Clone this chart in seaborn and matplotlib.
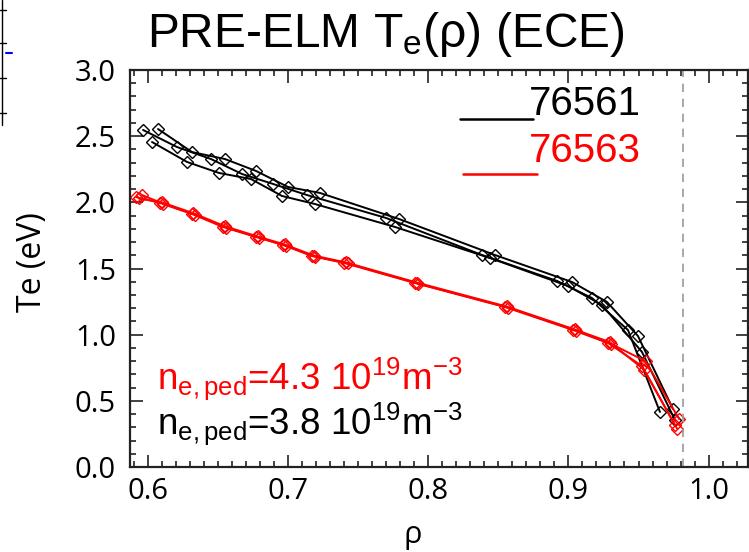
import numpy as np
import pandas as pd
import matplotlib
matplotlib.use("Agg")
import matplotlib.pyplot as plt
from matplotlib.lines import Line2D
from matplotlib.ticker import MultipleLocator
import seaborn as sns

# ---- data ----
rho_b1 = [0.5966, 0.6208, 0.6451, 0.6672, 0.6893, 0.7136, 0.7699, 0.8384, 0.8919, 0.9168, 0.9425, 0.9653]
te_b1  = [2.547, 2.418, 2.327, 2.214, 2.139, 2.055, 1.882, 1.602, 1.406, 1.277, 1.035, 0.416]
rho_b2 = [0.6073, 0.6315, 0.6551, 0.6772, 0.7000, 0.7228, 0.7792, 0.8476, 0.9026, 0.9275, 0.9496, 0.9746]
te_b2  = [2.554, 2.380, 2.327, 2.237, 2.116, 2.071, 1.874, 1.602, 1.398, 1.247, 0.990, 0.438]
rho_b3 = [0.6030, 0.6280, 0.6508, 0.6736, 0.6957, 0.7193, 0.7763, 0.8441, 0.8997, 0.9240, 0.9525, 0.9760]
te_b3  = [2.456, 2.305, 2.222, 2.176, 2.048, 1.987, 1.814, 1.579, 1.368, 1.224, 0.869, 0.355]

rho_r1 = [0.5916, 0.6087, 0.6315, 0.6536, 0.6772, 0.6964, 0.7171, 0.7400, 0.7906, 0.8548, 0.9033, 0.9283, 0.9525, 0.9760]
te_r1  = [2.040, 1.995, 1.912, 1.814, 1.738, 1.678, 1.594, 1.542, 1.390, 1.209, 1.035, 0.937, 0.763, 0.317]
rho_r2 = [0.5959, 0.6110, 0.6340, 0.6560, 0.6795, 0.6985, 0.7195, 0.7425, 0.7930, 0.8570, 0.9055, 0.9305, 0.9550, 0.9790]
te_r2  = [2.055, 1.990, 1.905, 1.808, 1.733, 1.672, 1.590, 1.538, 1.385, 1.204, 1.030, 0.930, 0.800, 0.362]
rho_r3 = [0.5935, 0.6100, 0.6325, 0.6548, 0.6783, 0.6975, 0.7183, 0.7412, 0.7918, 0.8559, 0.9044, 0.9294, 0.9540, 0.9775]
te_r3  = [2.030, 2.000, 1.918, 1.820, 1.742, 1.682, 1.598, 1.546, 1.394, 1.213, 1.040, 0.944, 0.735, 0.290]

separatrix = 0.9817
shot_labels = ["76561", "76563"]
xticks = [0.6, 0.7, 0.8, 0.9, 1.0]
yticks = [0.0, 0.5, 1.0, 1.5, 2.0, 2.5, 3.0]

sns.set_style("ticks")
plt.rcParams["mathtext.fontset"] = "custom"
plt.rcParams["mathtext.rm"] = "Liberation Sans"
plt.rcParams["mathtext.it"] = "Liberation Sans:italic"
plt.rcParams["font.family"] = ["Liberation Sans", "DejaVu Sans"]
plt.rcParams["text.color"] = "black"
plt.rcParams["xtick.color"] = "black"
plt.rcParams["ytick.color"] = "black"
plt.rcParams["xtick.labelcolor"] = "black"
plt.rcParams["ytick.labelcolor"] = "black"

fig = plt.figure(figsize=(7.49, 5.52), dpi=100)
ax = fig.add_axes([130/749, 85/552, 618/749, 397/552])

for rr, tt in [(rho_b1, te_b1), (rho_b2, te_b2), (rho_b3, te_b3)]:
    sns.lineplot(x=rr, y=tt, ax=ax, color="black", lw=1.4, marker="D", ms=6.5,
                 markerfacecolor="none", markeredgecolor="black", mew=1.0,
                 sort=False, estimator=None)
for rr, tt in [(rho_r1, te_r1), (rho_r2, te_r2), (rho_r3, te_r3)]:
    sns.lineplot(x=rr, y=tt, ax=ax, color="#ff0000", lw=1.4, marker="D", ms=6.5,
                 markerfacecolor="none", markeredgecolor="#ff0000", mew=1.0,
                 sort=False, estimator=None)

ax.axvline(separatrix, color="#999999", lw=1.2, ls=(0, (5, 4)))

ax.set_xlim(0.5873, 1.0281)
ax.set_ylim(0.0, 3.0)
ax.set_xticks(xticks)
ax.set_yticks(yticks)
ax.set_xticklabels([f"{v:.1f}" for v in xticks], family="Open Sans", fontsize=21)
ax.set_yticklabels([f"{v:.1f}" for v in yticks], family="Open Sans", fontsize=21)
ax.xaxis.set_minor_locator(MultipleLocator(0.01))
ax.yaxis.set_minor_locator(MultipleLocator(0.1))
ax.tick_params(which="both", direction="in", top=True, right=True, width=1.2, color="#222222")
ax.tick_params(which="major", length=9)
ax.tick_params(which="minor", length=4.5)
ax.tick_params(axis="x", which="major", pad=7)
ax.tick_params(axis="y", which="major", pad=10)
for s in ax.spines.values():
    s.set_linewidth(1.6)
    s.set_color("#222222")
ax.set_xlabel("")
ax.set_ylabel("")

# legend-like shot labels
ax.add_line(Line2D([0.534, 0.652], [0.877, 0.877], transform=ax.transAxes, color="black", lw=1.8))
ax.add_line(Line2D([0.539, 0.659], [0.738, 0.738], transform=ax.transAxes, color="#ff0000", lw=1.8))
ax.text(0.645, 0.887, shot_labels[0], transform=ax.transAxes, fontsize=29, color="black",
        ha="left", va="baseline")
ax.text(0.645, 0.768, shot_labels[1], transform=ax.transAxes, fontsize=29, color="#ff0000",
        ha="left", va="baseline")

# density annotations
ax.text(0.0437, 0.196, r"n$_\mathrm{e,ped}$=4.3 10$^\mathrm{19}$m$^\mathrm{-3}$",
        transform=ax.transAxes, fontsize=26.5, color="#ff0000", ha="left", va="baseline")
ax.text(0.0437, 0.084, r"n$_\mathrm{e,ped}$=3.8 10$^\mathrm{19}$m$^\mathrm{-3}$",
        transform=ax.transAxes, fontsize=26.5, color="black", ha="left", va="baseline")

# title and axis labels
fig.text(386/749, (552-47)/552, r"PRE-ELM T$_\mathrm{e}$(ρ) (ECE)", fontsize=34.5,
         ha="center", va="baseline", color="black")
fig.text(33/749, (552-262)/552, "Te (eV)", rotation=90, family="Open Sans", fontsize=23,
         ha="center", va="center", color="black")
fig.text(413/749, (552-535)/552, "ρ", family="Open Sans", fontsize=22, ha="center", va="center",
         color="black")

# fragment of a neighbouring panel at top-left
for seg in [([2/749, 2/749], [1, 1-125/552]),
            ([0, 6/749], [1-10/552, 1-10/552]),
            ([0, 6/749], [1-43/552, 1-43/552]),
            ([0, 6/749], [1-78/552, 1-78/552]),
            ([0, 6/749], [1-113/552, 1-113/552])]:
    fig.add_artist(Line2D(seg[0], seg[1], transform=fig.transFigure, color="black", lw=1))
fig.add_artist(Line2D([6/749, 12/749], [1-53/552, 1-53/552], transform=fig.transFigure,
                      color="blue", lw=1.5))

fig.savefig("out.png", dpi=100)
